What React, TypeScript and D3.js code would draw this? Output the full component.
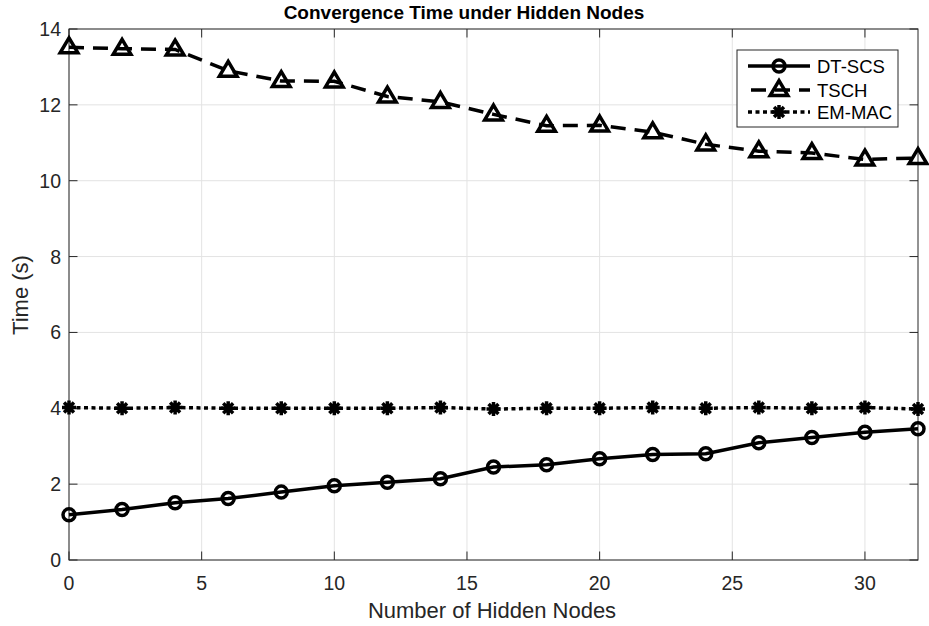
import React from "react";
import * as d3 from "d3";

const xValues = [0, 2, 4, 6, 8, 10, 12, 14, 16, 18, 20, 22, 24, 26, 28, 30, 32];
const dtscs = [1.19, 1.33, 1.51, 1.62, 1.79, 1.96, 2.05, 2.14, 2.45, 2.51, 2.67, 2.78, 2.8, 3.09, 3.23, 3.37, 3.46];
const tsch = [13.52, 13.48, 13.46, 12.9, 12.63, 12.62, 12.22, 12.08, 11.75, 11.45, 11.46, 11.28, 10.96, 10.78, 10.73, 10.56, 10.6];
const emmac = [4.02, 4.0, 4.02, 4.0, 4.0, 4.0, 4.0, 4.02, 3.98, 4.0, 4.0, 4.02, 4.0, 4.02, 4.0, 4.02, 3.98];
const xTicks = [0, 5, 10, 15, 20, 25, 30];
const yTicks = [0, 2, 4, 6, 8, 10, 12, 14];
const seriesNames = ["DT-SCS", "TSCH", "EM-MAC"];

const W = 929, H = 626;
const L = 69, R = 918, T = 29, B = 560;
const font = "'Liberation Sans', Arial, Helvetica, sans-serif";
const LW = 3.5;

const x = d3.scaleLinear().domain([0, 32]).range([L, R]);
const y = d3.scaleLinear().domain([0, 14]).range([B, T]);

const line = d3.line<number>().x((_, i) => x(xValues[i])).y((d) => y(d));

function Circle({ cx, cy }: { cx: number; cy: number }) {
  return <circle cx={cx} cy={cy} r={6} fill="none" stroke="#000" strokeWidth={LW} />;
}
function Tri({ cx, cy }: { cx: number; cy: number }) {
  const s = 9.3;
  const p = `M${cx},${cy - s} L${cx + s * 0.95},${cy + s * 0.6} L${cx - s * 0.95},${cy + s * 0.6} Z`;
  return <path d={p} fill="none" stroke="#000" strokeWidth={LW} strokeLinejoin="miter" />;
}
function Star({ cx, cy }: { cx: number; cy: number }) {
  const r = 7;
  const lines = [0, 45, 90, 135].map((a) => {
    const rad = (a * Math.PI) / 180;
    const dx = Math.cos(rad) * r, dy = Math.sin(rad) * r;
    return `M${cx - dx},${cy - dy} L${cx + dx},${cy + dy}`;
  });
  return <path d={lines.join(" ")} stroke="#000" strokeWidth={LW} fill="none" />;
}

export default function App() {
  const legX = 737, legY = 50, legW = 161, legH = 77;
  const rows = [66, 90, 112];
  return (
    <svg width={W} height={H} style={{ display: "block", position: "absolute", left: 0, top: 0 }}>
      <rect x={0} y={0} width={W} height={H} fill="#fff" />
      {/* grid */}
      {xTicks.map((t) => (
        <line key={"gx" + t} x1={x(t)} x2={x(t)} y1={T} y2={B} stroke="#e3e3e3" strokeWidth={1} />
      ))}
      {yTicks.map((t) => (
        <line key={"gy" + t} x1={L} x2={R} y1={y(t)} y2={y(t)} stroke="#e3e3e3" strokeWidth={1} />
      ))}
      {/* axes box */}
      <rect x={L} y={T} width={R - L} height={B - T} fill="none" stroke="#262626" strokeWidth={1} />
      {xTicks.map((t) => (
        <g key={"tx" + t}>
          <line x1={x(t)} x2={x(t)} y1={B} y2={B - 8.5} stroke="#262626" />
          <line x1={x(t)} x2={x(t)} y1={T} y2={T + 8.5} stroke="#262626" />
          <text x={x(t)} y={583} textAnchor="middle" dominantBaseline="central" fontFamily={font} fontSize={19.5} fill="#262626">
            {t}
          </text>
        </g>
      ))}
      {yTicks.map((t) => (
        <g key={"ty" + t}>
          <line x1={L} x2={L + 8.5} y1={y(t)} y2={y(t)} stroke="#262626" />
          <line x1={R} x2={R - 8.5} y1={y(t)} y2={y(t)} stroke="#262626" />
          <text x={61} y={y(t)} textAnchor="end" dominantBaseline="central" fontFamily={font} fontSize={19.5} fill="#262626">
            {t}
          </text>
        </g>
      ))}
      {/* labels */}
      <text x={492} y={610} textAnchor="middle" dominantBaseline="central" fontFamily={font} fontSize={22} fill="#262626">
        Number of Hidden Nodes
      </text>
      <text transform={`translate(20,${295}) rotate(-90)`} textAnchor="middle" dominantBaseline="central" fontFamily={font} fontSize={22} fill="#262626">
        Time (s)
      </text>
      <text x={464} y={12} textAnchor="middle" dominantBaseline="central" fontFamily={font} fontSize={19} fontWeight="bold" fill="#000">
        Convergence Time under Hidden Nodes
      </text>
      {/* series */}
      <path d={line(tsch) || ""} fill="none" stroke="#000" strokeWidth={LW} strokeDasharray="15 9" />
      <path d={line(emmac) || ""} fill="none" stroke="#000" strokeWidth={LW} strokeDasharray="4 3.5" />
      <path d={line(dtscs) || ""} fill="none" stroke="#000" strokeWidth={LW} />
      {dtscs.map((v, i) => <Circle key={"c" + i} cx={x(xValues[i])} cy={y(v)} />)}
      {tsch.map((v, i) => <Tri key={"t" + i} cx={x(xValues[i])} cy={y(v)} />)}
      {emmac.map((v, i) => <Star key={"s" + i} cx={x(xValues[i])} cy={y(v)} />)}
      {/* legend */}
      <rect x={legX} y={legY} width={legW} height={legH} fill="#fff" stroke="#262626" strokeWidth={1} />
      <line x1={748} x2={810} y1={rows[0]} y2={rows[0]} stroke="#000" strokeWidth={LW} />
      <Circle cx={779} cy={rows[0]} />
      <line x1={751} x2={810} y1={rows[1]} y2={rows[1]} stroke="#000" strokeWidth={LW} strokeDasharray="15 9" />
      <Tri cx={779} cy={rows[1]} />
      <line x1={748} x2={810} y1={rows[2]} y2={rows[2]} stroke="#000" strokeWidth={LW} strokeDasharray="4 3.5" />
      <Star cx={779} cy={rows[2]} />
      {seriesNames.map((n, i) => (
        <text key={n} x={817} y={rows[i]} dominantBaseline="central" fontFamily={font} fontSize={18.5} fill="#000">
          {n}
        </text>
      ))}
    </svg>
  );
}
